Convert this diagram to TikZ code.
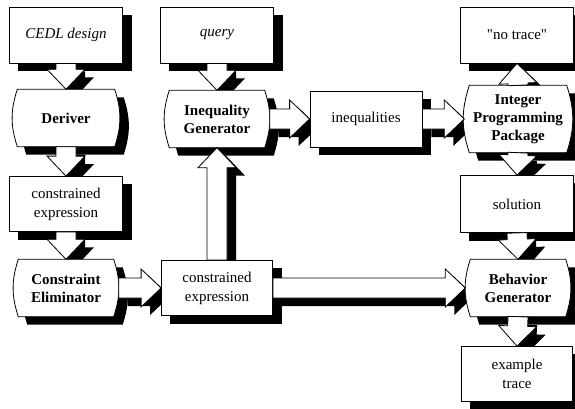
\documentclass[tikz,border=0pt]{standalone}
\usepackage{fontspec}
\setmainfont{Liberation Serif}
\usetikzlibrary{calc}
\pgfdeclarelayer{shadow}
\pgfdeclarelayer{back}
\pgfsetlayers{shadow,back,main}
\font\plainq="Liberation Serif" at 15pt
\tikzstyle{BX}=[draw,fill=white,line width=.8pt,minimum width=113pt,minimum height=56pt,inner sep=0pt,align=center,font=\fontsize{15}{19}\selectfont]
\tikzstyle{PR}=[minimum width=107pt,minimum height=57pt,inner sep=0pt,align=center,font=\fontsize{15}{18}\selectfont\bfseries]
\tikzstyle{SH}=[fill=black,transform canvas={shift={(9pt,-8pt)}}]
\tikzstyle{WH}=[draw,fill=white,line width=.8pt]

\newcommand\procpath[1]{([xshift=5pt]#1.north west) to[bend right=18] ([xshift=5pt]#1.south west) -- ([xshift=-5pt]#1.south east) to[bend right=18] ([xshift=-5pt]#1.north east) -- cycle}
\newcommand\arrowpath[2]{($(#1)!10pt!90:(#2)$) -- ($(#2)!20pt!(#1)!10pt!90:(#2)$) -- ($(#2)!20pt!(#1)!19pt!90:(#2)$) -- (#2) -- ($(#2)!20pt!(#1)!19pt!-90:(#2)$) -- ($(#2)!20pt!(#1)!10pt!-90:(#2)$) -- ($(#1)!10pt!-90:(#2)$) -- cycle}
\newcommand\barrow[2]{%
    \begin{pgfonlayer}{shadow}\fill[SH] \arrowpath{#1}{#2};\end{pgfonlayer}
    \path[WH] \arrowpath{#1}{#2};}

\begin{document}
\begin{tikzpicture}[x=1pt,y=1pt]
    \useasboundingbox (0,0) rectangle (575,-408);

    % left column
    \node[BX] (cedl) at (66,-35) {\textit{CEDL design}};
    \node[PR] (der) at (66,-118) {Deriver};
    \node[BX,minimum height=55pt] (cexp) at (66,-204) {constrained\\expression};
    \node[PR,minimum width=105pt] (elim) at (66,-288) {Constraint\\Eliminator};

    % middle
    \node[BX] (query) at (217,-35) {\textit{query}};
    \node[PR,minimum width=105pt] (ineq) at (217,-119) {Inequality\\Generator};
    \node[BX,minimum width=111pt,minimum height=55pt] (cexpb) at (217,-288) {constrained\\expression};
    \node[BX,minimum width=112pt] (ineqs) at (366,-119) {inequalities};

    % right column
    \node[BX] (notrace) at (517,-35) {{\plainq "}no trace{\plainq "}};
    \node[PR,minimum height=67pt] (ipp) at (518,-119) {Integer\\Programming\\Package};
    \node[BX,minimum height=57pt] (sol) at (517,-204) {solution};
    \node[PR,minimum width=105pt] (beh) at (518,-288) {Behavior\\Generator};
    \node[BX,minimum width=111pt,minimum height=55pt] (trace) at (517,-374) {example\\trace};

    \begin{pgfonlayer}{shadow}
        \foreach \n in {cedl,cexp,query,cexpb,ineqs,notrace,sol,trace}
            \fill[SH] (\n.north west) rectangle (\n.south east);
        \foreach \n in {der,elim,ineq,ipp,beh}
            \fill[SH] \procpath{\n};
    \end{pgfonlayer}
    \begin{pgfonlayer}{back}
        \foreach \n in {der,elim,ineq,ipp,beh}
            \path[WH] \procpath{\n};
    \end{pgfonlayer}

    % block arrows
    \barrow{cedl.south}{der.north}
    \barrow{der.south}{cexp.north}
    \barrow{cexp.south}{elim.north}
    \barrow{elim.east}{cexpb.west}
    \barrow{query.south}{ineq.north}
    \barrow{cexpb.north}{ineq.south}
    \barrow{ineq.east}{ineqs.west}
    \barrow{ineqs.east}{ipp.west}
    \barrow{ipp.north}{notrace.south}
    \barrow{ipp.south}{sol.north}
    \barrow{sol.south}{beh.north}
    \barrow{cexpb.east}{beh.west}
    \barrow{beh.south}{trace.north}
\end{tikzpicture}
\end{document}
